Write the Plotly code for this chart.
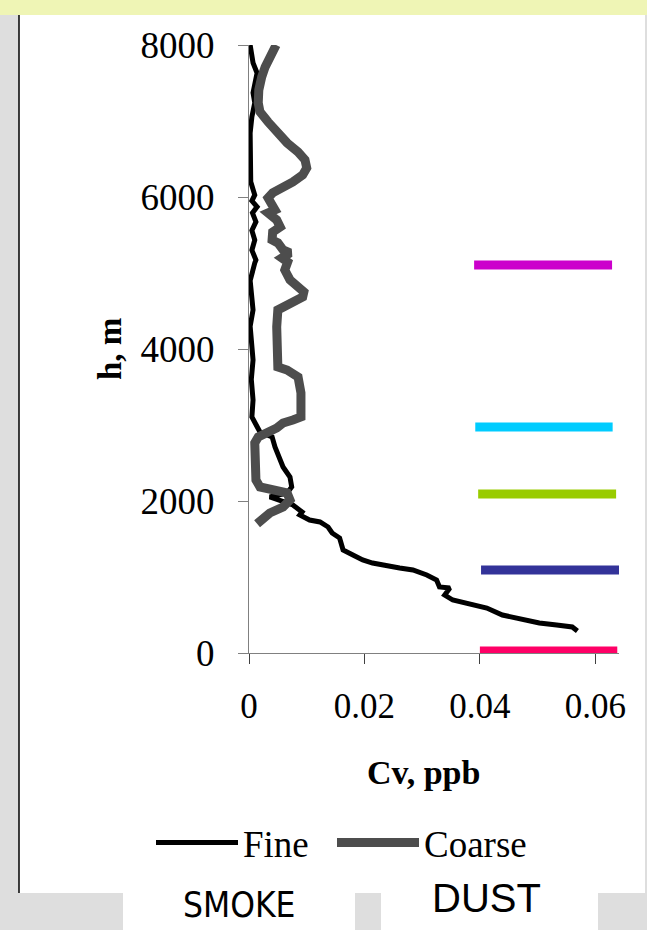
import plotly.graph_objects as go

# ---- data ----
fine_h = [8000, 7765, 7632, 7500, 7370, 7240, 7055, 6843, 6500, 6200, 6027, 5950, 5870, 5790,
          5672, 5560, 5435, 5300, 5172, 5132, 4900, 4514, 4300, 3856, 3600, 3330, 3106, 2974,
          2908, 2843, 2711, 2448, 2316, 2185, 2105, 2053, 2013, 1948, 1855, 1816, 1750, 1724,
          1658, 1579, 1513, 1395, 1355, 1290, 1224, 1184, 1158, 1119, 1092, 1026, 961, 869,
          855, 763, 697, 658, 592, 500, 434, 395, 368, 342, 290]
fine_cv = [0.0002, 0.0007, 0.0014, 0.0010, 0.0007, 0.0010, 0.0005, 0.0002, 0.0002, 0.0003,
           0.0010, 0.0005, 0.0014, 0.0006, 0.0012, 0.0005, 0.0010, 0.0005, 0.0012, 0.0010,
           0.0002, 0.0007, 0.0002, 0.0007, 0.0004, 0.0007, 0.0005, 0.0014, 0.0019, 0.0040,
           0.0045, 0.0059, 0.0071, 0.0074, 0.0066, 0.0036, 0.0050, 0.0076, 0.0092, 0.0088,
           0.0105, 0.0123, 0.0137, 0.0144, 0.0157, 0.0161, 0.0163, 0.0180, 0.0197, 0.0214,
           0.0239, 0.0261, 0.0284, 0.0308, 0.0325, 0.0330, 0.0348, 0.0339, 0.0353, 0.0377,
           0.0412, 0.0439, 0.0474, 0.0503, 0.0533, 0.0560, 0.0569]

coarse_h = [8000, 7843, 7712, 7580, 7409, 7238, 7120, 6988, 6843, 6712, 6593, 6488, 6383, 6291,
            6198, 6133, 6054, 5988, 5896, 5830, 5791, 5698, 5606, 5540, 5435, 5396, 5304, 5264,
            5198, 5145, 5040, 4909, 4817, 4751, 4685, 4606, 4514, 4290, 4027, 3764, 3724, 3632,
            3422, 3237, 3106, 3066, 3027, 2961, 2908, 2843, 2764, 2540, 2277, 2185, 2145, 2106,
            2013, 1921, 1842, 1750, 1700]
coarse_cv = [0.0047, 0.0036, 0.0028, 0.0022, 0.0017, 0.0016, 0.0019, 0.0033, 0.0048, 0.0066,
             0.0085, 0.0097, 0.0100, 0.0093, 0.0076, 0.0059, 0.0041, 0.0033, 0.0040, 0.0045,
             0.0033, 0.0048, 0.0054, 0.0041, 0.0040, 0.0050, 0.0059, 0.0071, 0.0057, 0.0067,
             0.0062, 0.0071, 0.0085, 0.0095, 0.0093, 0.0071, 0.0050, 0.0048, 0.0050, 0.0050,
             0.0066, 0.0085, 0.0090, 0.0091, 0.0090, 0.0076, 0.0059, 0.0048, 0.0031, 0.0016,
             0.0010, 0.0010, 0.0012, 0.0019, 0.0041, 0.0066, 0.0071, 0.0059, 0.0036, 0.0019,
             0.0014]

layer_h = [5105, 2974, 2092, 1092, 26]
layer_x0 = [0.0390, 0.0392, 0.0397, 0.0402, 0.0400]
layer_x1 = [0.0629, 0.0630, 0.0636, 0.0641, 0.0638]
layer_colors = ["#cc00cc", "#00ccff", "#99cc00", "#333399", "#ff0066"]

y_ticks = [0, 2000, 4000, 6000, 8000]
x_ticks = [0, 0.02, 0.04, 0.06]
x_ticktext = ["0", "0.02", "0.04", "0.06"]

# ---- geometry (pixels) ----
W, H = 647, 930
L, R, T, B = 249, 619, 45, 653
def px(p):
    return (p - L) / (R - L)
def py(p):
    return (B - p) / (B - T)

SERIF = "Liberation Serif, Times New Roman, serif"

fig = go.Figure()
fig.add_trace(go.Scatter(x=fine_cv, y=fine_h, mode="lines", name="Fine", legend="legend",
                         line=dict(color="#000000", width=5)))
fig.add_trace(go.Scatter(x=coarse_cv, y=coarse_h, mode="lines", name="Coarse", legend="legend2",
                         line=dict(color="#4d4d4d", width=9)))

shapes = []
# background panels
shapes.append(dict(type="rect", xref="paper", yref="paper", x0=px(0), x1=px(W), y0=py(0), y1=py(15),
                   fillcolor="#eff5b5", line=dict(width=0), layer="below"))
shapes.append(dict(type="rect", xref="paper", yref="paper", x0=px(19), x1=px(645), y0=py(15), y1=py(893),
                   fillcolor="#ffffff", line=dict(width=0), layer="below"))
shapes.append(dict(type="rect", xref="paper", yref="paper", x0=px(123), x1=px(355), y0=py(893), y1=py(H),
                   fillcolor="#ffffff", line=dict(width=0), layer="below"))
shapes.append(dict(type="rect", xref="paper", yref="paper", x0=px(381), x1=px(598), y0=py(893), y1=py(H),
                   fillcolor="#ffffff", line=dict(width=0), layer="below"))
shapes.append(dict(type="line", xref="paper", yref="paper", x0=px(19), x1=px(19), y0=py(15), y1=py(893),
                   line=dict(color="#000000", width=1.5), layer="below"))
# layer bars
for h, a, b, c in zip(layer_h, layer_x0, layer_x1, layer_colors):
    shapes.append(dict(type="line", xref="x", yref="y", x0=a, x1=b, y0=h, y1=h,
                       line=dict(color=c, width=9), layer="above"))

annotations = [
    dict(text="<b>h, m</b>", xref="paper", yref="paper", x=px(110), y=py(349), showarrow=False,
         textangle=-90, font=dict(family=SERIF, size=33, color="black"), xanchor="center", yanchor="middle"),
    dict(text="<b>Cv, ppb</b>", xref="paper", yref="paper", x=px(423), y=py(772), showarrow=False,
         font=dict(family=SERIF, size=34, color="black"), xanchor="center", yanchor="middle"),
    dict(text="SMOKE", xref="paper", yref="paper", x=px(239), y=py(905), showarrow=False,
         font=dict(family="Liberation Sans Narrow, DejaVu Sans Condensed, Arial Narrow, sans-serif", size=35, color="black"),
         xanchor="center", yanchor="middle"),
    dict(text="DUST", xref="paper", yref="paper", x=px(486), y=py(898), showarrow=False,
         font=dict(family="Liberation Sans, Arial, sans-serif", size=40, color="black"),
         xanchor="center", yanchor="middle"),
]

leg_common = dict(orientation="h", yanchor="middle", xanchor="left",
                  font=dict(family=SERIF, size=37, color="black"), bgcolor="rgba(0,0,0,0)",
                  itemwidth=82)

fig.update_layout(
    width=W, height=H,
    margin=dict(l=L, r=W - R, t=T, b=H - B, pad=0),
    paper_bgcolor="#dedede",
    plot_bgcolor="rgba(0,0,0,0)",
    shapes=shapes,
    annotations=annotations,
    showlegend=True,
    legend=dict(x=px(151), y=py(843), **leg_common),
    legend2=dict(x=px(332), y=py(843), **leg_common),
    xaxis=dict(range=[0, 0.0641], tickvals=x_ticks, ticktext=x_ticktext, showgrid=False, zeroline=False,
               showline=True, linecolor="#808080", linewidth=1, ticks="outside", ticklen=10,
               tickcolor="#404040", tickfont=dict(family=SERIF, size=35, color="black"),
               ticklabelstandoff=12),
    yaxis=dict(range=[0, 8000], tickvals=y_ticks, showgrid=False, zeroline=False,
               showline=True, linecolor="#808080", linewidth=1, ticks="outside", ticklen=10,
               tickcolor="#808080", tickfont=dict(family=SERIF, size=37, color="black"),
               ticklabelstandoff=16),
)

fig.write_html("out.html")
